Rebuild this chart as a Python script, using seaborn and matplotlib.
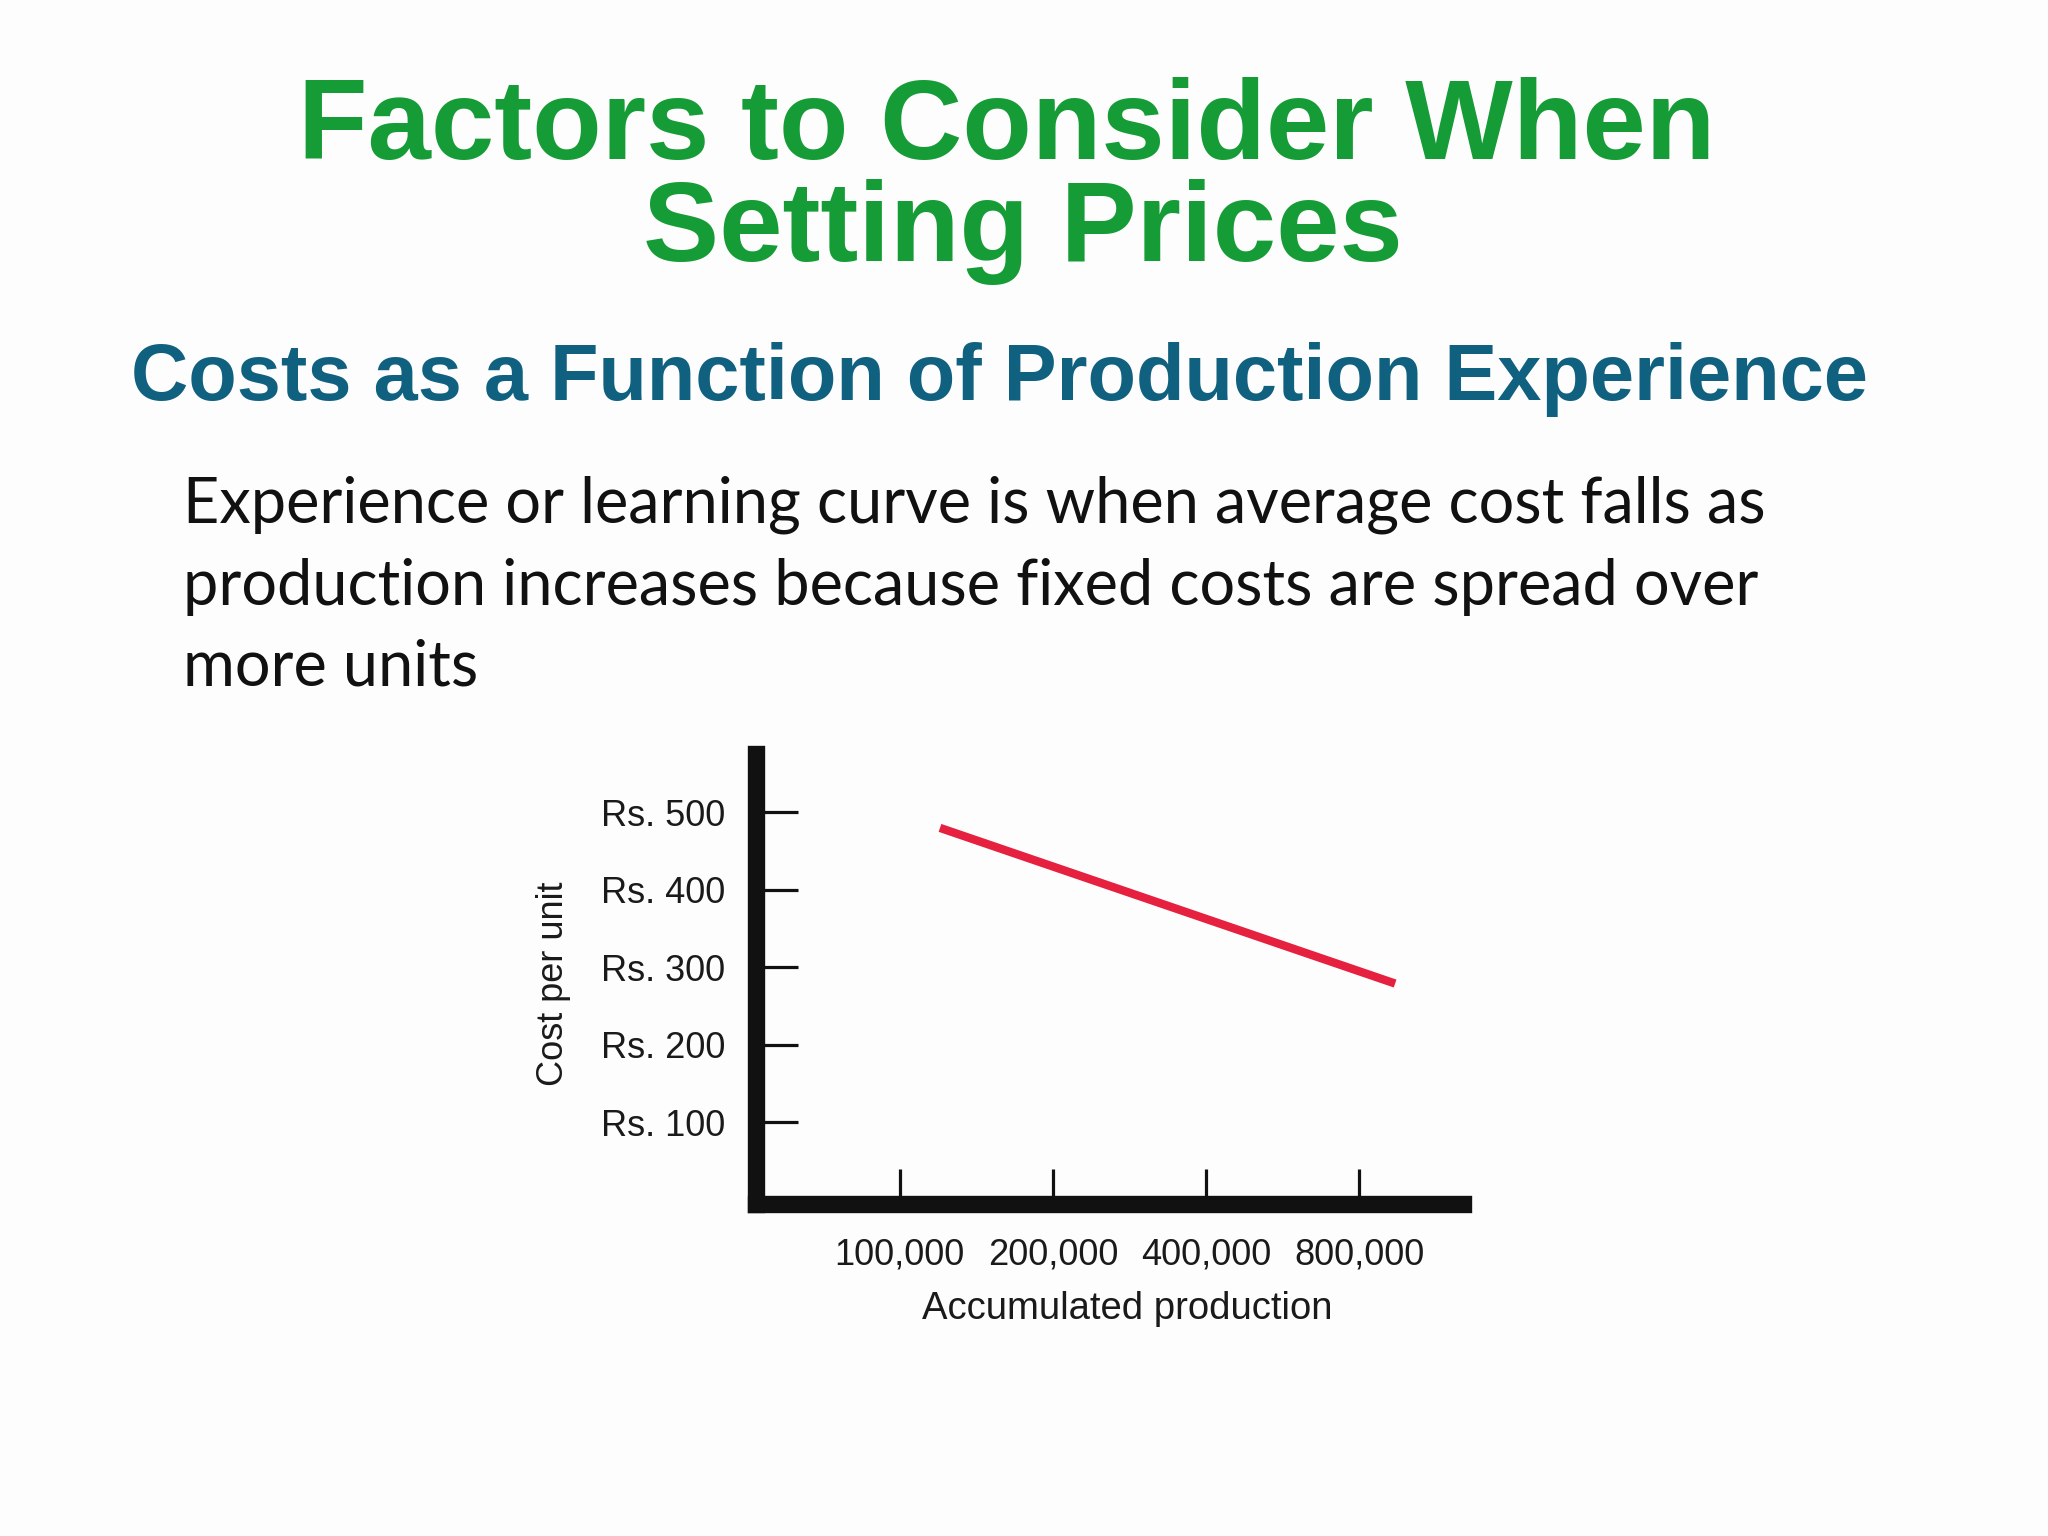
import matplotlib
matplotlib.use("Agg")
import matplotlib.pyplot as plt
import matplotlib.ticker as ticker
import numpy as np
import pandas as pd
import seaborn as sns

# chart data
production = [120000, 940000]
cost_per_unit = [480, 279]
x_ticks = [100000, 200000, 400000, 800000]
y_ticks = [100, 200, 300, 400, 500]

title_lines = ["Factors to Consider When", "Setting Prices"]
subtitle = "Costs as a Function of Production Experience"
body_lines = [
    "Experience or learning curve is when average cost falls as",
    "production increases because fixed costs are spread over",
    "more units",
]

sns.set_style("ticks")
plt.rcParams["font.family"] = ["Liberation Sans", "DejaVu Sans"]

fig = plt.figure(figsize=(20.48, 15.36), dpi=100, facecolor="#fdfdfd")

# slide text
green = "#169c36"
fig.text(0.4917, 0.8963, title_lines[0], ha="center", va="baseline",
         fontsize=82, fontweight="bold", color=green)
fig.text(0.4994, 0.830, title_lines[1], ha="center", va="baseline",
         fontsize=82, fontweight="bold", color=green)
fig.text(0.0638, 0.7398, subtitle, ha="left", va="baseline",
         fontsize=57.2, fontweight="bold", color="#10607f")
for y, line in zip([0.6599, 0.6063, 0.5536], body_lines):
    fig.text(0.0893, y, line, ha="left", va="baseline", fontsize=45.4,
             color="#111111", family=["Lato", "DejaVu Sans"])

# the learning curve chart
ax = fig.add_axes([0.3689, 0.2160, 0.3453, 0.2934])
ax.patch.set_alpha(0)
df = pd.DataFrame({"production": production, "cost": cost_per_unit})
sns.lineplot(data=df, x="production", y="cost", ax=ax, color="#e6203f",
             linewidth=6, solid_capstyle="butt")
ax.set_xscale("log", base=2)
ax.set_xlim(52100, 1276000)
ax.set_ylim(-6, 576)

ax.set_xticks(x_ticks)
ax.xaxis.set_major_formatter(ticker.FuncFormatter(lambda v, p: f"{int(v):,}"))
ax.xaxis.set_minor_locator(ticker.NullLocator())
ax.set_yticks(y_ticks)
ax.set_yticklabels([f"Rs. {v}" for v in y_ticks])

ax.tick_params(axis="y", direction="in", length=30, width=2.3, pad=22,
               labelsize=26, labelcolor="#1a1a1a", color="#111111")
ax.tick_params(axis="x", direction="in", length=25, width=2.3, pad=24,
               labelsize=26, labelcolor="#1a1a1a", color="#111111")

sns.despine(ax=ax)
for side in ["left", "bottom"]:
    ax.spines[side].set_linewidth(12.5)
    ax.spines[side].set_color("#111111")
    ax.spines[side].set_capstyle("projecting")

ax.set_xlabel("Accumulated production", fontsize=27.5, color="#1a1a1a", va="center")
ax.set_ylabel("Cost per unit", fontsize=26, color="#1a1a1a", va="center")
ax.xaxis.set_label_coords(0.525, -0.233)
ax.yaxis.set_label_coords(-0.285, 0.49)

fig.savefig("out.png", dpi=100, facecolor=fig.get_facecolor())
